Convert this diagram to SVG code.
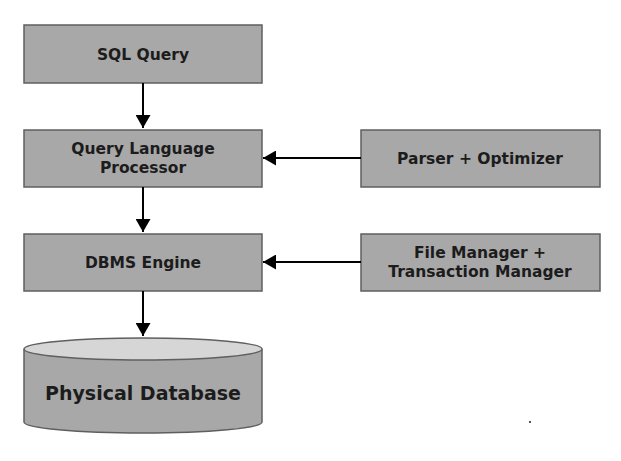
<svg xmlns="http://www.w3.org/2000/svg" width="621" height="461" viewBox="0 0 621 461">
<style>
.box{fill:#a8a8a8;stroke:#5f5f5f;stroke-width:1.5}
.t{font-family:"DejaVu Sans",Verdana,sans-serif;font-weight:bold;font-size:15.5px;fill:#1c1c1c;text-anchor:middle}
.big{font-size:19px}
.c{stroke:#000;stroke-width:2;fill:none}
</style>
<defs>
<marker id="ah" markerUnits="userSpaceOnUse" markerWidth="14" markerHeight="15" refX="13" refY="7.5" orient="auto">
<path d="M0,0 L13,7.5 L0,15 z" fill="#000"/>
</marker>
</defs>
<rect width="621" height="461" fill="#fff"/>
<g id="sql-query">
<rect class="box" x="24" y="25" width="238" height="58"/>
<text class="t" x="143" y="60">SQL Query</text>
</g>
<g id="query-language-processor">
<rect class="box" x="24" y="130" width="238" height="57"/>
<text class="t" x="143" y="154">Query Language</text>
<text class="t" x="143" y="173">Processor</text>
</g>
<g id="parser-optimizer">
<rect class="box" x="361" y="130" width="239" height="57"/>
<text class="t" x="480" y="164">Parser + Optimizer</text>
</g>
<g id="dbms-engine">
<rect class="box" x="24" y="234" width="238" height="57"/>
<text class="t" x="143" y="268">DBMS Engine</text>
</g>
<g id="file-transaction-manager">
<rect class="box" x="361" y="234" width="239" height="57"/>
<text class="t" x="480" y="258">File Manager +</text>
<text class="t" x="480" y="277">Transaction Manager</text>
</g>
<g id="physical-database">
<path class="box" d="M24,349 L24,422 A119,11 0 0 0 262,422 L262,349"/>
<ellipse cx="143" cy="349" rx="119" ry="11" fill="#d6d6d6" stroke="#5f5f5f" stroke-width="1.5"/>
<text class="t big" x="143" y="400">Physical Database</text>
</g>
<g id="connectors">
<line class="c" x1="143" y1="83" x2="143" y2="128" marker-end="url(#ah)"/>
<line class="c" x1="143" y1="187" x2="143" y2="232" marker-end="url(#ah)"/>
<line class="c" x1="143" y1="291" x2="143" y2="336" marker-end="url(#ah)"/>
<line class="c" x1="361" y1="158" x2="263" y2="158" marker-end="url(#ah)"/>
<line class="c" x1="361" y1="262" x2="263" y2="262" marker-end="url(#ah)"/>
</g>
<rect x="529" y="421" width="2" height="2" fill="#555"/>
</svg>
